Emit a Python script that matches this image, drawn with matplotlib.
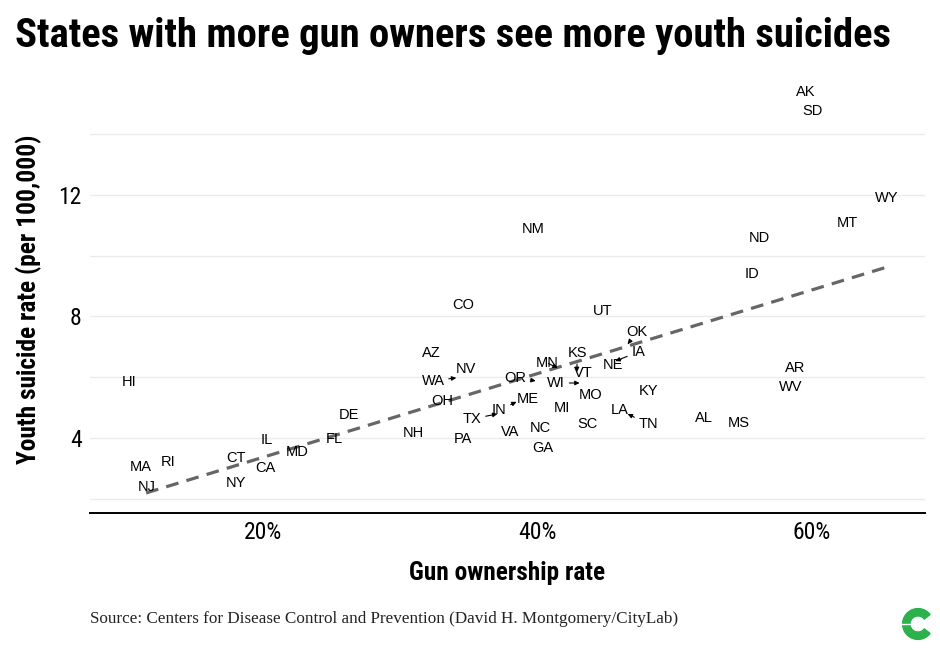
import matplotlib
matplotlib.use("Agg")
import matplotlib.pyplot as plt
import matplotlib.font_manager as fm
from matplotlib.patches import Wedge

# ---- data (gun ownership %, youth suicide rate per 100k) ----
states = ["AK", "SD", "WY", "MT", "ND", "NM", "ID", "CO", "UT", "NE",
          "VT", "MO", "KY", "MI", "LA", "SC", "NC", "GA", "VA", "ME",
          "PA", "NH", "OH", "NV", "AZ", "DE", "FL", "MD", "IL", "CA",
          "CT", "NY", "RI", "MA", "NJ", "HI", "AR", "WV", "AL", "MS",
          "OK", "IA", "KS", "MN", "OR", "WI", "WA", "IN", "TX", "TN"]
gun_rate = [59.6, 60.1, 65.5, 62.6, 56.2, 39.7, 55.7, 34.6, 44.8, 45.5,
            43.4, 43.9, 48.1, 41.8, 46.0, 43.7, 40.2, 40.4, 38.0, 39.3,
            34.6, 31.0, 33.1, 34.8, 32.3, 26.3, 25.2, 22.5, 20.3, 20.2,
            18.0, 18.0, 13.1, 11.1, 11.5, 10.2, 58.8, 58.5, 52.2, 54.7,
            46.6, 45.7, 42.9, 41.5, 39.9, 43.1, 34.1, 38.5, 37.1, 46.6]
suicide_rate = [15.39, 14.77, 11.90, 11.08, 10.58, 10.88, 9.40, 8.38, 8.18, 6.40,
                6.14, 5.42, 5.55, 4.99, 4.92, 4.46, 4.33, 3.67, 4.20, 5.28,
                3.97, 4.16, 5.22, 6.27, 6.80, 4.76, 3.97, 3.54, 3.93, 3.01,
                3.34, 2.52, 3.21, 3.05, 2.39, 5.84, 6.30, 5.68, 4.66, 4.49,
                7.09, 6.53, 6.17, 6.30, 5.88, 5.81, 5.98, 5.19, 4.79, 4.79]

# fitted trend line end points
trend_x = [11.46, 65.55]
trend_y = [2.19, 9.63]

y_ticks = [4, 8, 12]
y_minor = [2, 6, 10, 14]
x_ticks = [20, 40, 60]
x_tick_labels = ["20%", "40%", "60%"]

# repelled label positions (layout)
label_at = {
    "OK": (47.30, 7.49), "IA": (47.37, 6.83), "KS": (42.92, 6.80),
    "MN": (40.73, 6.47), "OR": (38.39, 5.98), "WI": (41.39, 5.81),
    "WA": (32.41, 5.88), "IN": (37.23, 4.92), "TX": (35.26, 4.63),
    "TN": (48.10, 4.46),
}

# ---- pick a condensed font if one is installed ----
_fonts = fm.fontManager.ttflist
_names = sorted({f.name for f in _fonts})
cond_family = None
cond_stretch = "normal"
for cand in ["Roboto Condensed", "Liberation Sans Narrow", "Open Sans Condensed",
             "Noto Sans Condensed", "Arial Narrow", "DejaVu Sans Condensed"]:
    if cand in _names:
        cond_family = cand
        break
if cond_family is None:
    for n in _names:
        if any(k in n for k in ("Condensed", "Narrow", "Cond")):
            cond_family = n
            break
if cond_family is None:
    for f in _fonts:
        if f.stretch in ("condensed", "semi-condensed", "extra-condensed") or \
                (isinstance(f.stretch, int) and f.stretch < 500):
            cond_family = f.name
            cond_stretch = "condensed"
            break
if cond_family is None:
    cond_family = "Roboto"
cond = [cond_family, "DejaVu Sans"]


def cfont(size, weight="normal"):
    return dict(family=cond, fontsize=size, fontweight=weight, fontstretch=cond_stretch)


fig = plt.figure(figsize=(9.4, 6.48), dpi=100)
ax = fig.add_axes([90 / 940, 1 - 513 / 648, 835 / 940, (513 - 85) / 648])

ax.set_xlim(7.37, 68.3)
ax.set_ylim(1.53, 15.62)

for v in y_ticks + y_minor:
    ax.axhline(v, color="#ebebeb", lw=1.0, zorder=0)

ax.plot(trend_x, trend_y, color="#666666", lw=2.3, ls=(0, (4, 2.6)), zorder=2)

for s, gx, sy in zip(states, gun_rate, suicide_rate):
    if s in label_at:
        lx, ly = label_at[s]
        ax.annotate(s, xy=(gx, sy), xytext=(lx, ly), ha="center", va="center",
                    fontsize=10.5, family=["Liberation Sans", "DejaVu Sans"],
                    color="black", zorder=3,
                    arrowprops=dict(arrowstyle="-|>,head_length=0.25,head_width=0.12",
                                    color="black", lw=0.8, shrinkA=1, shrinkB=0))
    else:
        ax.text(gx, sy, s, ha="center", va="center", fontsize=10.5,
                family=["Liberation Sans", "DejaVu Sans"], color="black", zorder=3)

for sp in ["top", "right", "left"]:
    ax.spines[sp].set_visible(False)
ax.spines["bottom"].set_linewidth(1.4)
ax.spines["bottom"].set_color("black")

ax.set_yticks(y_ticks)
ax.set_yticklabels([str(v) for v in y_ticks], **cfont(17))
ax.set_xticks(x_ticks)
ax.set_xticklabels(x_tick_labels, **cfont(17))
ax.tick_params(axis="both", length=0, pad=6, colors="black")
ax.tick_params(axis="y", pad=6)

ax.set_xlabel("Gun ownership rate", labelpad=12, **cfont(18.3, "bold"))
ax.set_ylabel("Youth suicide rate (per 100,000)", labelpad=12, **cfont(18.3, "bold"))

fig.text(15 / 940, 1 - 36 / 648, "States with more gun owners see more youth suicides",
         va="center", ha="left", **cfont(29.3, "bold"))
fig.text(90 / 940, 1 - 619 / 648,
         "Source: Centers for Disease Control and Prevention (David H. Montgomery/CityLab)",
         family=["Liberation Serif", "DejaVu Serif"], fontsize=12.3, va="center", ha="left",
         color="#222222")

# logo
lax = fig.add_axes([898 / 940, 1 - 644 / 648, 40 / 940, 40 / 648])
lax.set_xlim(-1.3, 1.3)
lax.set_ylim(-1.3, 1.3)
lax.set_aspect("equal")
lax.axis("off")
lax.add_patch(Wedge((0, 0), 1.0, 38, 322, width=0.48, color="#2bb24c"))
lax.plot([-1.05, -0.45], [0, 0], color="white", lw=1.0)

fig.savefig("out.png", dpi=100, facecolor="white")
